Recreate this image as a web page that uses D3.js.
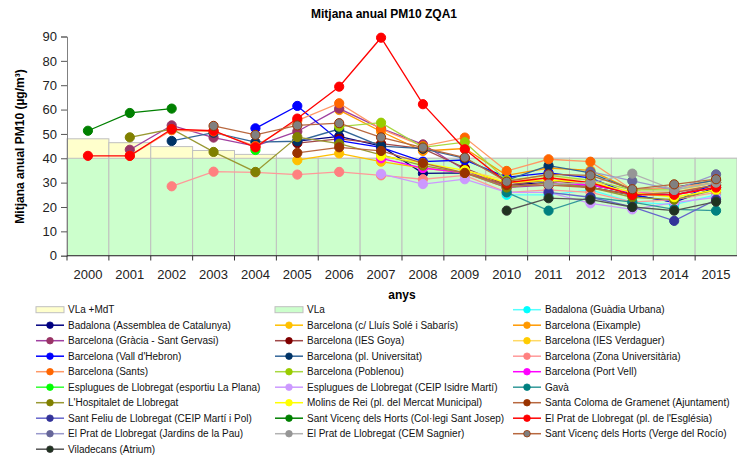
<!DOCTYPE html>
<html><head><meta charset="utf-8">
<script src="https://cdn.jsdelivr.net/npm/d3@7"></script>
<style>body{margin:0;background:#fff}svg{display:block;font-family:"Liberation Sans",Arial,sans-serif}</style>
</head><body><svg id="c" width="737" height="457"></svg>
<script>
const n = null;
const years = [2000,2001,2002,2003,2004,2005,2006,2007,2008,2009,2010,2011,2012,2013,2014,2015];
const yTicks = [0,10,20,30,40,50,60,70,80,90];
const vlaMdt = [48,46.4,44.8,43.2,41.6,40,40,40,40,40,40,40,40,40,40,40];
const vla    = [40,40,40,40,40,40,40,40,40,40,40,40,40,40,40,40];

const badalonaGuardia  = [n,n,n,n,n,n,n,n,n,n,25,25,27,22,21,25];
const badalonaAssemblea= [n,n,n,n,n,47,49,45,33.8,34,29,30,28,25,22,28];
const bcnSole          = [n,n,n,n,n,39.2,42,38.6,36,34,30,31,30,26,25,28];
const bcnEixample      = [n,n,n,n,n,n,59.8,51,43,44,33,36,35,27,28,31];
const bcnGracia        = [n,43.5,53.5,48.5,45,51,60.4,52.3,45.7,35.2,28,29,29,26,26,29];
const bcnGoya          = [n,n,n,n,n,46.2,48,46,44,36,29,31,29,26,25,29];
const bcnVerdaguer     = [n,n,n,n,n,n,n,n,n,35,31,32,31,26,26,30];
const bcnVallHebron    = [n,n,n,n,52.3,61.5,47.2,44.5,38.6,39.3,32.2,34,32,25,22,30];
const bcnUniversitat   = [n,n,47.1,50.5,46.6,47,52,45,44,40,31,37,34,27,28,31];
const bcnZonaUniv      = [n,n,28.5,34.5,34.2,33.3,34.4,33,31.4,33,26,27,26,22,23,26];
const bcnSants         = [n,41,51.5,51,45,55.5,62.6,52,45,48.5,34.8,39.6,38.6,27,28,30];
const bcnPoblenou      = [n,n,n,n,n,n,53,54.6,44.5,46.6,31,33,31,27,27,30];
const bcnPortVell      = [n,n,n,n,n,n,n,40,36,34,28,30,29,26,25,28];
const esplLaPlana      = [n,n,n,n,43.4,n,n,n,n,n,n,n,n,n,n,n];
const esplCeip         = [n,n,n,n,n,n,n,33.6,29.4,31.4,26,26,21.5,19,21.8,24];
const gava             = [n,n,n,n,n,n,n,n,n,n,26,18.5,24,22,19,18.5];
const hospitalet       = [n,48.6,52,42.6,34.4,48.7,46,41.4,37,34,28,30,28,24,23,27];
const molins           = [n,n,n,n,n,n,n,41,38,35,30,31,30,26,24,27];
const santaColoma      = [n,n,n,n,n,42.2,44.5,43,38,34,29,29,28,25,26,29];
const santFeliu        = [n,n,n,n,n,n,n,n,n,n,n,26,24,20,14.3,23];
const santVicencJosep  = [51.3,58.6,60.4,n,n,n,n,n,n,n,n,n,n,n,n,n];
const pratEsglesia     = [41,41,52,51.3,44.5,56.3,69.4,89.5,62.2,43.7,30,32,30,25,25,28];
const pratJardins      = [n,n,n,n,n,n,n,n,n,n,n,n,34.5,30.7,27,33.4];
const pratCem          = [n,n,n,n,n,n,n,n,n,n,n,29.3,30,33.7,27,30];
const santVicencVerge  = [n,n,n,53.3,49.6,53.5,54.4,48.6,44.4,40.3,30.4,33.4,33,27.3,29.3,31.4];
const viladecans       = [n,n,n,n,n,n,n,n,n,n,18.5,23.6,23,20,18.5,22.2];

const stationNames = ["Badalona (Guàdia Urbana)","Badalona (Assemblea de Catalunya)","Barcelona (c/ Lluís Solé i Sabarís)","Barcelona (Eixample)","Barcelona (Gràcia - Sant Gervasi)","Barcelona (IES Goya)","Barcelona (IES Verdaguer)","Barcelona (Vall d'Hebron)","Barcelona (pl. Universitat)","Barcelona (Zona Universitària)","Barcelona (Sants)","Barcelona (Poblenou)","Barcelona (Port Vell)","Esplugues de Llobregat (esportiu La Plana)","Esplugues de Llobregat (CEIP Isidre Martí)","Gavà","L'Hospitalet de Llobregat","Molins de Rei (pl. del Mercat Municipal)","Santa Coloma de Gramenet (Ajuntament)","Sant Feliu de Llobregat (CEIP Martí i Pol)","Sant Vicenç dels Horts (Col·legi Sant Josep)","El Prat de Llobregat (pl. de l'Església)","El Prat de Llobregat (Jardins de la Pau)","El Prat de Llobregat (CEM Sagnier)","Sant Vicenç dels Horts (Verge del Rocío)","Viladecans (Atrium)"];
const stationValues = [badalonaGuardia,badalonaAssemblea,bcnSole,bcnEixample,bcnGracia,bcnGoya,bcnVerdaguer,bcnVallHebron,bcnUniversitat,bcnZonaUniv,bcnSants,bcnPoblenou,bcnPortVell,esplLaPlana,esplCeip,gava,hospitalet,molins,santaColoma,santFeliu,santVicencJosep,pratEsglesia,pratJardins,pratCem,santVicencVerge,viladecans];

// styles
const lineColors   = ["#55FFFF","#000080","#FFC000","#FF9900","#A040A0","#A04848","#FFD966","#0000FF","#336699","#FF9999","#FF9966","#A8D840","#FF00FF","#33FF33","#CC99FF","#339999","#999933","#FFFF00","#B8683F","#6666CC","#008000","#FF0000","#9999CC","#B2B2B2","#B8683F","#555555"];
const markerColors = ["#00FFFF","#000080","#FFC000","#FF9900","#993366","#800000","#FFCC00","#0000FF","#003366","#FF8080","#FF6600","#99CC00","#FF00FF","#00FF00","#CC99FF","#008080","#808000","#FFFF00","#993300","#333399","#008000","#FF0000","#666699","#969696","#808080","#1F3320"];
const markerStroke = markerColors.map((c,i)=> i===24 ? "#993300" : (i===25 ? "#333333" : c));

const svg = d3.select("#c");
const x = d3.scaleBand().domain(years).range([67,737]).padding(0);
const y = d3.scaleLinear().domain([0,90]).range([255.7,36.5]);

// bars
const bw = x.bandwidth();
svg.append("g").selectAll("rect").data(years).join("rect")
  .attr("x", (d)=>x(d)).attr("width", bw)
  .attr("y", (d,i)=>y(vlaMdt[i])).attr("height", (d,i)=>y(0)-y(vlaMdt[i]))
  .attr("fill","#FFFFCC").attr("stroke","#C0C0C0").attr("stroke-width",1);
svg.append("g").selectAll("rect").data(years).join("rect")
  .attr("x", (d)=>x(d)).attr("width", bw)
  .attr("y", (d,i)=>y(vla[i])).attr("height", (d,i)=>y(0)-y(vla[i]))
  .attr("fill","#CCFFCC").attr("stroke","#C0C0C0").attr("stroke-width",1);

// axes
const yAxis = svg.append("g").attr("transform","translate(67,0)")
  .call(d3.axisLeft(y).tickValues(yTicks).tickSize(6).tickPadding(4));
yAxis.select(".domain").attr("stroke","#808080");
yAxis.selectAll(".tick line").attr("stroke","#555");
yAxis.selectAll("text").attr("font-size",13).attr("fill","#222").attr("font-family","Liberation Sans, Arial");

const xAxis = svg.append("g").attr("transform","translate(0,255.7)")
  .call(d3.axisBottom(x).tickSize(0).tickPadding(14));
xAxis.select(".domain").remove();
xAxis.selectAll("text").attr("font-size",13).attr("fill","#222").attr("font-family","Liberation Sans, Arial");
svg.append("line").attr("x1",67).attr("x2",737).attr("y1",255.7).attr("y2",255.7).attr("stroke","#333");
svg.append("g").selectAll("line").data(years).join("line")
  .attr("x1",d=>x(d)).attr("x2",d=>x(d)).attr("y1",255.7).attr("y2",260.5).attr("stroke","#333");

// series
const line = d3.line().defined(d=>d.v!=null).x(d=>x(d.yr)+bw/2).y(d=>y(d.v));
stationValues.forEach((vals,i)=>{
  const pts = vals.map((v,j)=>({yr:years[j],v}));
  const g = svg.append("g");
  g.append("path").datum(pts).attr("d",line).attr("fill","none")
    .attr("stroke",lineColors[i]).attr("stroke-width",1.3);
  g.selectAll("circle").data(pts.filter(p=>p.v!=null)).join("circle")
    .attr("cx",p=>x(p.yr)+bw/2).attr("cy",p=>y(p.v)).attr("r",4.6)
    .attr("fill",markerColors[i]).attr("stroke",markerStroke[i]).attr("stroke-width",1);
});

// titles
svg.append("text").attr("x",384).attr("y",18).attr("text-anchor","middle")
  .attr("font-size",12).attr("font-weight","bold").text("Mitjana anual PM10 ZQA1");
svg.append("text").attr("x",402).attr("y",299).attr("text-anchor","middle")
  .attr("font-size",12).attr("font-weight","bold").text("anys");
svg.append("text").attr("transform","translate(24,146.5) rotate(-90)").attr("text-anchor","middle")
  .attr("font-size",12).attr("font-weight","bold").text("Mitjana anual PM10 (µg/m³)");

// legend
const legendItems = [{name:"VLa +MdT",type:"bar",fill:"#FFFFCC"},{name:"VLa",type:"bar",fill:"#CCFFCC"}]
  .concat(stationNames.map((nm,i)=>({name:nm,type:"line",i})));
const colX = [36,275,513];
const lg = svg.append("g");
legendItems.forEach((it,k)=>{
  const cx = colX[k%3], cy = 309.7 + 15.5*Math.floor(k/3);
  if(it.type==="bar"){
    lg.append("rect").attr("x",cx).attr("y",cy-3).attr("width",28).attr("height",6)
      .attr("fill",it.fill).attr("stroke","#C0C0C0");
  } else {
    lg.append("line").attr("x1",cx).attr("x2",cx+28).attr("y1",cy).attr("y2",cy)
      .attr("stroke",lineColors[it.i]).attr("stroke-width",1.5);
    lg.append("circle").attr("cx",cx+14).attr("cy",cy).attr("r",3.3)
      .attr("fill",markerColors[it.i]).attr("stroke",markerStroke[it.i]).attr("stroke-width",0.8);
  }
  lg.append("text").attr("x",cx+32).attr("y",cy+3.6).attr("font-size",10).attr("fill","#111").text(it.name);
});
</script></body></html>
